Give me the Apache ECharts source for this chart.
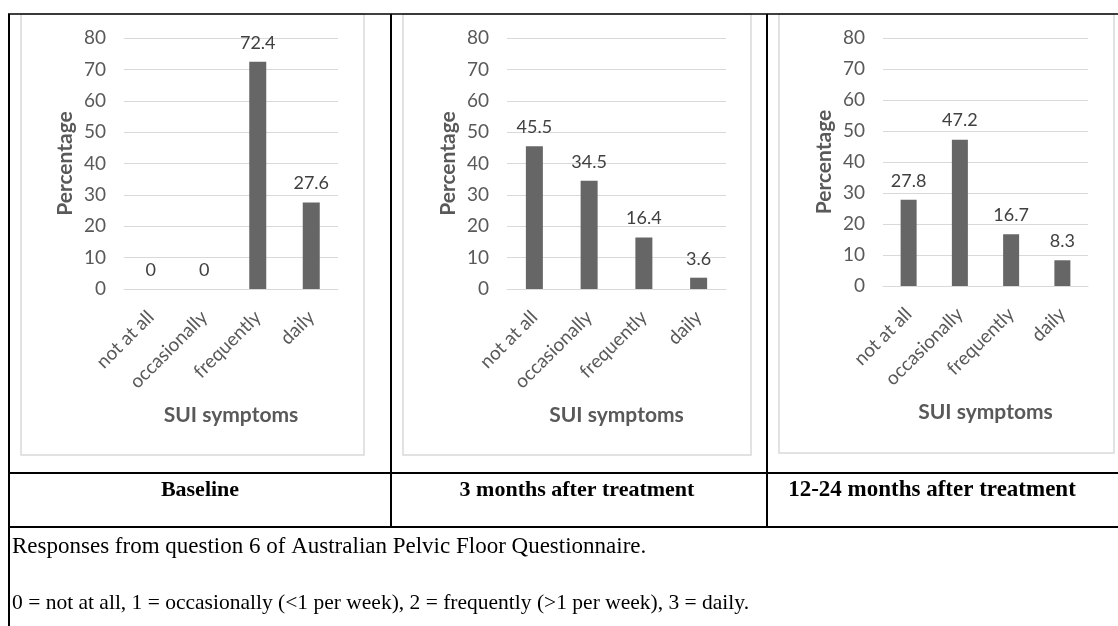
<!DOCTYPE html>
<html>
<head>
<meta charset="utf-8">
<script src="https://cdn.jsdelivr.net/npm/echarts@6/dist/echarts.min.js"></script>
<style>
html,body{margin:0;padding:0;background:#fff;}
#c{width:1118px;height:626px;}
</style>
</head>
<body>
<div id="c"></div>
<script>
const categories = ['not at all', 'occasionally', 'frequently', 'daily'];
const baseline = [0, 0, 72.4, 27.6];
const months3 = [45.5, 34.5, 16.4, 3.6];
const months12to24 = [27.8, 47.2, 16.7, 8.3];
const yTicks = [0, 80, 10];
const panelTitles = ['Baseline', '3 months after treatment', '12-24 months after treatment'];
const note1 = 'Responses from question 6 of Australian Pelvic Floor Questionnaire.';
const note2 = '0 = not at all, 1 = occasionally (<1 per week), 2 = frequently (>1 per week), 3 = daily.';
const xName = 'SUI symptoms';
const yName = 'Percentage';

const FONT = 'Lato';
const GRAY = '#595959';
const grids = [
  {left: 124, top: 38, width: 214, height: 251},
  {left: 507, top: 38, width: 219, height: 251},
  {left: 883, top: 38, width: 205, height: 248}
];
const barWidths = [17, 17, 16];
const seriesData = [baseline, months3, months12to24];

const chart = echarts.init(document.getElementById('c'));
const xAxes = [], yAxes = [], series = [];
grids.forEach((g, i) => {
  xAxes.push({
    type: 'category', gridIndex: i, data: categories,
    axisLine: {lineStyle: {color: '#d9d9d9', width: 1}},
    axisTick: {show: false},
    axisLabel: {rotate: 45, color: GRAY, fontFamily: FONT, fontSize: 19, margin: 25, interval: 0},
    name: xName, nameLocation: 'middle', nameGap: 116,
    nameTextStyle: {color: GRAY, fontFamily: FONT, fontSize: 21, fontWeight: 'bold'}
  });
  yAxes.push({
    type: 'value', gridIndex: i, min: yTicks[0], max: yTicks[1], interval: yTicks[2],
    axisLine: {show: false}, axisTick: {show: false},
    splitLine: {lineStyle: {color: '#d9d9d9', width: 1}},
    axisLabel: {color: GRAY, fontFamily: FONT, fontSize: 19, margin: 18},
    name: yName, nameLocation: 'middle', nameGap: 48, nameRotate: 90,
    nameTextStyle: {color: GRAY, fontFamily: FONT, fontSize: 21, fontWeight: 'bold'}
  });
  series.push({
    type: 'bar', xAxisIndex: i, yAxisIndex: i, data: seriesData[i],
    barWidth: barWidths[i], itemStyle: {color: '#666666'},
    label: {show: true, position: 'top', distance: 10, color: '#404040', fontFamily: FONT, fontSize: 18},
    silent: true
  });
});

const LW = 2;
function line(x1, y1, x2, y2, w, c) {
  return {type: 'line', shape: {x1, y1, x2, y2}, style: {stroke: c || '#000', lineWidth: w || LW}, silent: true};
}
function rect(x, y, w, h) {
  return {type: 'rect', shape: {x, y, width: w, height: h}, style: {fill: 'none', stroke: '#d9d9d9', lineWidth: 1.5}, silent: true};
}
function txt(x, y, s, opts) {
  return {type: 'text', x, y, style: Object.assign({text: s, fill: '#000', fontFamily: 'Liberation Serif', fontSize: 22, textVerticalAlign: 'middle'}, opts), silent: true};
}
const graphics = [
  rect(21, 14, 343, 441),
  rect(403, 14, 348, 441),
  rect(779, 14, 335, 439),
  line(8, 14, 1118, 14, 1.5),
  line(9, 14, 9, 626),
  line(391, 14, 391, 527),
  line(767, 14, 767, 527),
  line(8, 473, 1118, 473),
  line(8, 527, 1118, 527),
  txt(200, 490, panelTitles[0], {textAlign: 'center', fontWeight: 'bold'}),
  txt(577, 490, panelTitles[1], {textAlign: 'center', fontWeight: 'bold'}),
  txt(932, 490, panelTitles[2], {textAlign: 'center', fontWeight: 'bold', fontSize: 23}),
  txt(12, 547, note1, {textAlign: 'left', fontSize: 23}),
  txt(12, 603, note2, {textAlign: 'left', fontSize: 21.5})
];

chart.setOption({
  animation: false,
  grid: grids,
  xAxis: xAxes,
  yAxis: yAxes,
  series: series,
  graphic: graphics
});
</script>
</body>
</html>
